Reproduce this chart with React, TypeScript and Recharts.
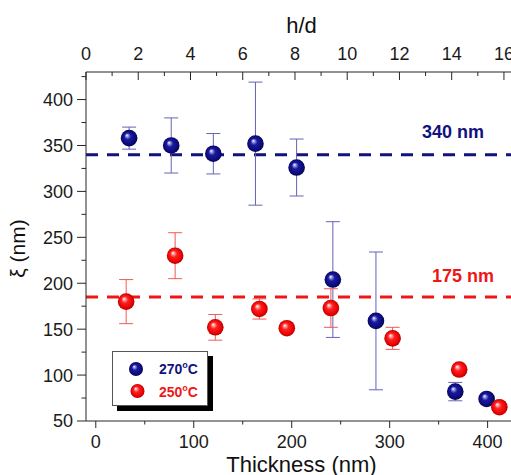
import React from 'react';
import { ScatterChart, Scatter, XAxis, YAxis, ErrorBar, ReferenceLine, Legend, Label } from 'recharts';

// ---- data ----
const thickness270 = [34, 77, 120, 163, 205, 242, 286, 367, 399];
const xi270 = [358, 350, 341, 352, 326, 204, 159, 82, 74];
const err270 = [12, 30, 22, 67, 31, 63, 75, 10, 0];

const thickness250 = [31, 81, 122, 167, 195, 240, 303, 371, 412];
const xi250 = [180, 230, 152, 172, 151, 173, 140, 106, 65];
const err250 = [24, 25, 14, 11, 0, 21, 12, 0, 0];

const seriesNames = ['270°C', '250°C'];
const fitValues = [340, 185];
const fitLabels = ['340 nm', '175 nm'];

const thicknessDomain = [-10, 430];
const thicknessMajor = [0, 100, 200, 300, 400];
const thicknessMinor = [50, 150, 250, 350];
const hdDomain = [0, 16.5];
const hdMajor = [0, 2, 4, 6, 8, 10, 12, 14, 16];
const hdMinor = [1, 3, 5, 7, 9, 11, 13, 15];
const xiDomain = [50, 430];
const xiMajor = [50, 100, 150, 200, 250, 300, 350, 400];
const xiMinor = [75, 125, 175, 225, 275, 325, 375, 425];

const data270 = thickness270.map((t, i) => ({ t, xi: xi270[i], err: err270[i] }));
const data250 = thickness250.map((t, i) => ({ t, xi: xi250[i], err: err250[i] }));
// invisible helper so the top (h/d) axis gets a domain of its own
const hdAnchor = hdDomain.map((hd) => ({ hd, xi: xiDomain[0] }));

// ---- styles ----
const FONT = '"Liberation Sans", Arial, Helvetica, sans-serif';
const AX = '#262626';
const NAVY = '#12127e';
const RED = '#f01616';

const GradDefs = () => (
  <defs>
    <radialGradient id="ball-blue" cx="50%" cy="50%" r="50%" fx="36%" fy="32%">
      <stop offset="0%" stopColor="#ffffff" />
      <stop offset="15%" stopColor="#9c9ce4" />
      <stop offset="40%" stopColor="#1a1aa0" />
      <stop offset="85%" stopColor="#0a0a78" />
      <stop offset="100%" stopColor="#040448" />
    </radialGradient>
    <radialGradient id="ball-red" cx="50%" cy="50%" r="50%" fx="36%" fy="32%">
      <stop offset="0%" stopColor="#ffffff" />
      <stop offset="15%" stopColor="#ffa8a8" />
      <stop offset="40%" stopColor="#ff2020" />
      <stop offset="85%" stopColor="#e80000" />
      <stop offset="100%" stopColor="#a80000" />
    </radialGradient>
  </defs>
);

const Ball = ({ cx, cy, r = 8.3, tone }: any) => (
  <g>
    <GradDefs />
    <circle cx={cx} cy={cy} r={r} fill={`url(#ball-${tone})`} />
  </g>
);

const isIn = (arr: number[], v: number) => arr.some((a) => Math.abs(a - v) < 1e-9);

const LeftTick = (p: any) => {
  const v = p.payload.value;
  const major = isIn(xiMajor, v);
  return (
    <g>
      <line x1={p.x - (major ? 9 : 4.5)} x2={p.x} y1={p.y} y2={p.y} stroke={AX} strokeWidth={1} />
      {major && (
        <text x={p.x - 13} y={p.y} dy="0.36em" textAnchor="end" fontSize={18} fontFamily={FONT} fill="#1a1a1a">
          {v}
        </text>
      )}
    </g>
  );
};

const BottomTick = (p: any) => {
  const v = p.payload.value;
  const major = isIn(thicknessMajor, v);
  return (
    <g>
      <line x1={p.x} x2={p.x} y1={p.y} y2={p.y + (major ? 7 : 3.5)} stroke={AX} strokeWidth={1} />
      {major && (
        <text x={p.x} y={p.y + 27} textAnchor="middle" fontSize={18} fontFamily={FONT} fill="#1a1a1a">
          {v}
        </text>
      )}
    </g>
  );
};

const TopTick = (p: any) => {
  const v = p.payload.value;
  const major = isIn(hdMajor, v);
  return (
    <g>
      <line x1={p.x} x2={p.x} y1={p.y} y2={p.y + (major ? 8 : 4)} stroke={AX} strokeWidth={1} />
      {major && (
        <text x={p.x} y={p.y - 12} textAnchor="middle" fontSize={18} fontFamily={FONT} fill="#1a1a1a">
          {v}
        </text>
      )}
    </g>
  );
};

const LegendName = ({ name, x, y, color }: any) => {
  const [num, unit] = name.split('°');
  return (
    <text x={x} y={y} fontSize={14} fontWeight="bold" fontFamily={FONT} fill={color}>
      <tspan>{num}</tspan>
      <tspan dy={-6} fontSize={9}>o</tspan>
      <tspan dy={6}>{unit}</tspan>
    </text>
  );
};

const LegendBox = () => (
  <div
    style={{
      width: 96,
      height: 55,
      boxSizing: 'border-box',
      border: '1px solid #555',
      background: '#fff',
      boxShadow: '5px 5px 0 #000',
    }}
  >
    <svg width={94} height={53} style={{ display: 'block' }}>
      <GradDefs />
      <circle cx={23} cy={17} r={7} fill="url(#ball-blue)" />
      <circle cx={24.5} cy={39} r={7} fill="url(#ball-red)" />
      <LegendName name={seriesNames[0]} x={46} y={22} color={NAVY} />
      <LegendName name={seriesNames[1]} x={46} y={44.5} color={RED} />
    </svg>
  </div>
);

export default function App() {
  return (
    <div style={{ width: 511, height: 475, overflow: 'hidden', position: 'fixed', left: 0, top: 0, background: '#fff' }}>
      <ScatterChart width={548} height={475} margin={{ top: 0, right: 31, bottom: 0, left: 0 }}>
        <XAxis
          xAxisId="bottom"
          dataKey="t"
          type="number"
          orientation="bottom"
          domain={thicknessDomain}
          allowDataOverflow
          ticks={[...thicknessMajor, ...thicknessMinor].sort((a, b) => a - b)}
          interval={0}
          height={54}
          tickSize={0}
          tickMargin={0}
          tickLine={false}
          tick={BottomTick}
          stroke={AX}
        >
          <Label
            content={(props: any) => {
              const vb = props.viewBox;
              return (
                <text x={vb.x + vb.width / 2} y={vb.y + 50.5} textAnchor="middle" fontSize={22} fontFamily={FONT} fill="#111">
                  Thickness (nm)
                </text>
              );
            }}
          />
        </XAxis>
        <XAxis
          xAxisId="top"
          dataKey="hd"
          type="number"
          orientation="top"
          domain={hdDomain}
          allowDataOverflow
          ticks={[...hdMajor, ...hdMinor].sort((a, b) => a - b)}
          interval={0}
          height={72}
          tickSize={0}
          tickMargin={0}
          tickLine={false}
          tick={TopTick}
          stroke={AX}
        >
          <Label
            content={(props: any) => {
              const vb = props.viewBox;
              return (
                <text x={vb.x + vb.width / 2} y={vb.y + 33} textAnchor="middle" fontSize={22} fontFamily={FONT} fill="#111">
                  h/d
                </text>
              );
            }}
          />
        </XAxis>
        <YAxis
          dataKey="xi"
          type="number"
          domain={xiDomain}
          allowDataOverflow
          ticks={[...xiMajor, ...xiMinor].sort((a, b) => a - b)}
          interval={0}
          width={86}
          tickSize={0}
          tickMargin={0}
          tickLine={false}
          tick={LeftTick}
          stroke={AX}
        >
          <Label
            content={(props: any) => {
              const vb = props.viewBox;
              const x = vb.x + 25;
              const y = vb.y + vb.height / 2 + 2;
              return (
                <text x={x} y={y} transform={`rotate(-90, ${x}, ${y})`} textAnchor="middle" fontSize={21} fontFamily={FONT} fill="#111">
                  ξ (nm)
                </text>
              );
            }}
          />
        </YAxis>

        <ReferenceLine
          xAxisId="bottom"
          y={fitValues[0]}
          stroke={NAVY}
          strokeWidth={3}
          strokeDasharray="12 9"
          label={(props: any) => {
            const vb = props.viewBox;
            return (
              <text x={vb.x + 336} y={vb.y - 16.5} fontSize={18} fontWeight="bold" fontFamily={FONT} fill={NAVY}>
                {fitLabels[0]}
              </text>
            );
          }}
        />
        <ReferenceLine
          xAxisId="bottom"
          y={fitValues[1]}
          stroke={RED}
          strokeWidth={3}
          strokeDasharray="12 9"
          label={(props: any) => {
            const vb = props.viewBox;
            return (
              <text x={vb.x + 346} y={vb.y - 15.5} fontSize={18} fontWeight="bold" fontFamily={FONT} fill={RED}>
                {fitLabels[1]}
              </text>
            );
          }}
        />

        <Scatter
          xAxisId="top"
          data={hdAnchor}
          isAnimationActive={false}
          legendType="none"
          shape={() => <g />}
        />

        <Scatter
          name={seriesNames[0]}
          xAxisId="bottom"
          data={data270}
          isAnimationActive={false}
          shape={(p: any) => <Ball cx={p.cx} cy={p.cy} tone="blue" />}
        >
          <ErrorBar dataKey="err" direction="y" width={7} stroke="#6464b8" strokeWidth={1} isAnimationActive={false} />
        </Scatter>
        <Scatter
          name={seriesNames[1]}
          xAxisId="bottom"
          data={data250}
          isAnimationActive={false}
          shape={(p: any) => <Ball cx={p.cx} cy={p.cy} tone="red" />}
        >
          <ErrorBar dataKey="err" direction="y" width={7} stroke="#f05a5a" strokeWidth={1} isAnimationActive={false} />
        </Scatter>

        <Legend
          layout="horizontal"
          verticalAlign="middle"
          align="center"
          wrapperStyle={{ left: 112, top: 351, width: 96, height: 55 }}
          content={() => <LegendBox />}
        />
      </ScatterChart>
    </div>
  );
}
